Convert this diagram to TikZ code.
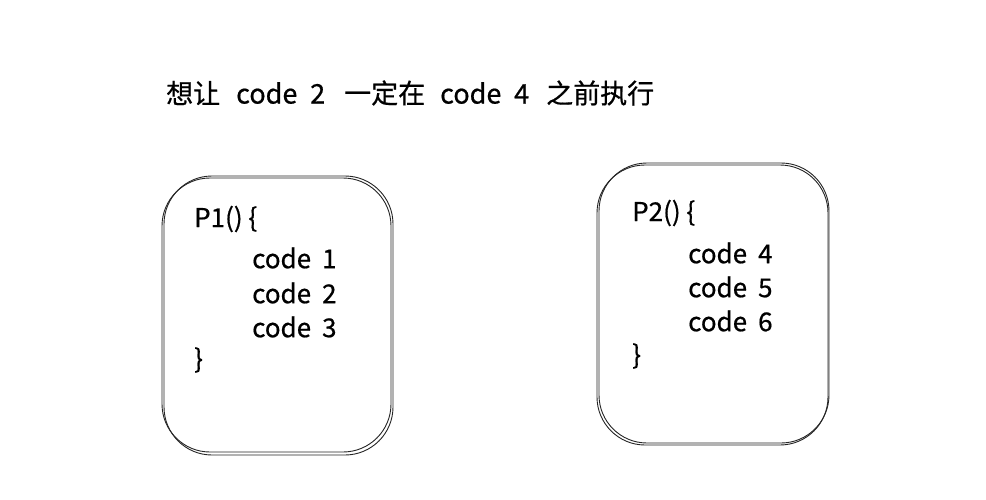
\documentclass[tikz,border=0pt]{standalone}
\usepackage{fontspec}
\setmainfont{Noto Sans CJK SC}[FakeBold=0.6]
\begin{document}
\begin{tikzpicture}[x=1pt,y=-1pt,
  sketch/.style={draw=black!85, line width=0.9pt, rounded corners=48pt},
  codetxt/.style={anchor=west, inner sep=0pt, font=\fontsize{26}{30}\selectfont},
  titletxt/.style={anchor=west, inner sep=0pt, font=\fontsize{27}{31}\selectfont}]
\useasboundingbox (0,0) rectangle (986,500);
\fill[white] (0,0) rectangle (986,500);
% title
\node[titletxt] (t1) at (166,93) {想让};
\node[titletxt] (t2) at (236,93) {code\hspace{0.25em} 2};
\node[titletxt] (t3) at (344,93) {一定在};
\node[titletxt] (t4) at (440,93) {code\hspace{0.25em} 4};
\node[titletxt] (t5) at (546,93) {之前执行};
% left box
\draw[sketch] (164,176) rectangle (393,455);
\draw[sketch] (162,178) rectangle (391,452);
\node[codetxt] (p1) at (194,219) {P1() \{};
\node[codetxt] (c1) at (252,258) {code\hspace{0.2em} 1};
\node[codetxt] (c2) at (252,293) {code\hspace{0.2em} 2};
\node[codetxt] (c3) at (252,327) {code\hspace{0.2em} 3};
\node[codetxt] (e1) at (194,360) {\}};
% right box
\draw[sketch] (599,163) rectangle (829,443);
\draw[sketch] (597,165) rectangle (828,445);
\node[codetxt] (p2) at (632,213) {P2() \{};
\node[codetxt] (c4) at (688,253) {code\hspace{0.2em} 4};
\node[codetxt] (c5) at (688,287) {code\hspace{0.2em} 5};
\node[codetxt] (c6) at (688,321) {code\hspace{0.2em} 6};
\node[codetxt] (e2) at (632,356) {\}};
\end{tikzpicture}
\end{document}
